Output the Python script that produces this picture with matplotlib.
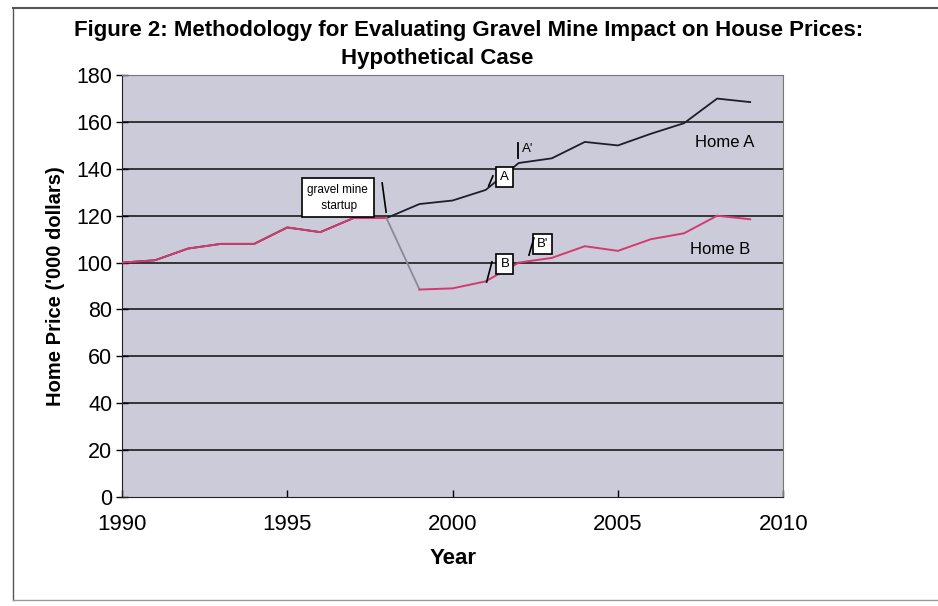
import matplotlib
matplotlib.use("Agg")
import matplotlib.pyplot as plt
from matplotlib.lines import Line2D

plt.rcParams['font.family'] = ['Liberation Sans', 'DejaVu Sans']

years = list(range(1990, 2010))
home_a = [100, 101, 106, 108, 108, 115, 113, 119, 119, 125, 126.5, 131, 142.5, 144.5, 151.5, 150, 155, 159.5, 170, 168.5]
home_b = [100, 101, 106, 108, 108, 115, 113, 119, 119, 88.5, 89, 92, 100, 102, 107, 105, 110, 112.5, 120, 118.5]
y_ticks = [0, 20, 40, 60, 80, 100, 120, 140, 160, 180]
x_ticks = [1990, 1995, 2000, 2005, 2010]

fig = plt.figure(figsize=(9.38, 6.06), dpi=100)
ax = fig.add_axes([0.130, 0.180, 0.705, 0.696])
ax.set_facecolor('#cbcbd9')

ax.set_xlim(1990, 2010)
ax.set_ylim(0, 180)
ax.set_yticks(y_ticks)
ax.set_xticks(x_ticks)
ax.tick_params(axis='y', labelsize=15.5, direction='inout', length=8, width=1, pad=3)
ax.tick_params(axis='x', labelsize=16, direction='in', length=5, width=1, pad=12)
for y in y_ticks[1:]:
    ax.axhline(y, color='#2a2a2a', lw=1.3, zorder=1)
for s in ['top', 'right']:
    ax.spines[s].set_color('#777777')
for s in ['left', 'bottom']:
    ax.spines[s].set_color('#222222')

# Home A (dark) and Home B (pink), with B's drop segment drawn grey
ax.plot(years, home_a, color='#1e1e2a', lw=1.3, zorder=3)
ax.plot(years[:9], home_b[:9], color='#d43a70', lw=1.4, zorder=4)
ax.plot(years[8:10], home_b[8:10], color='#8a8a96', lw=1.3, zorder=4)
ax.plot(years[9:], home_b[9:], color='#d43a70', lw=1.4, zorder=4)

ax.set_xlabel('Year', fontsize=16, fontweight='bold', labelpad=10)
ax.set_ylabel("Home Price ('000 dollars)", fontsize=14.5, fontweight='bold', labelpad=8)

fig.text(0.50, 0.950, 'Figure 2: Methodology for Evaluating Gravel Mine Impact on House Prices:',
         ha='center', va='center', fontsize=16, fontweight='bold')
fig.text(0.466, 0.904, 'Hypothetical Case', ha='center', va='center', fontsize=16, fontweight='bold')

box = dict(boxstyle='square,pad=0.3', fc='white', ec='black', lw=1.2)
ax.text(1996.53, 127.6, 'gravel mine\n startup', ha='center', va='center', fontsize=8.5,
        bbox=dict(boxstyle='square,pad=0.45', fc='white', ec='black', lw=1.2), zorder=6, linespacing=1.5)
ax.add_line(Line2D([1997.87, 1997.99], [134, 121.5], color='black', lw=1.2, zorder=6))

ax.text(2001.58, 136.5, 'A', ha='center', va='center', fontsize=9.5, bbox=box, zorder=6)
ax.add_line(Line2D([2001.09, 2001.22], [132.7, 137], color='black', lw=1.2, zorder=6))
ax.add_line(Line2D([2001.98, 2001.98], [144.6, 151], color='black', lw=1.3, zorder=6))
ax.text(2002.28, 148.3, "A'", ha='center', va='center', fontsize=9.5, zorder=6)

ax.text(2001.58, 99.4, 'B', ha='center', va='center', fontsize=9.5, bbox=box, zorder=6)
ax.add_line(Line2D([2001.03, 2001.19], [91.7, 100.3], color='black', lw=1.2, zorder=6))
ax.text(2002.73, 108, "B'", ha='center', va='center', fontsize=9.5, bbox=box, zorder=6)
ax.add_line(Line2D([2002.31, 2002.46], [103.2, 110.5], color='black', lw=1.2, zorder=6))

ax.text(2008.24, 151.4, 'Home A', ha='center', va='center', fontsize=12, zorder=6)
ax.text(2008.09, 105.4, 'Home B', ha='center', va='center', fontsize=12, zorder=6)

# page frame lines
fig.add_artist(Line2D([0.014, 1.0], [0.987, 0.987], color='#555555', lw=1.5, transform=fig.transFigure))
fig.add_artist(Line2D([0.014, 0.014], [0.01, 0.987], color='#555555', lw=1.0, transform=fig.transFigure))
fig.add_artist(Line2D([0.014, 1.0], [0.01, 0.01], color='#999999', lw=1.0, transform=fig.transFigure))

fig.savefig('out.png', dpi=100)
